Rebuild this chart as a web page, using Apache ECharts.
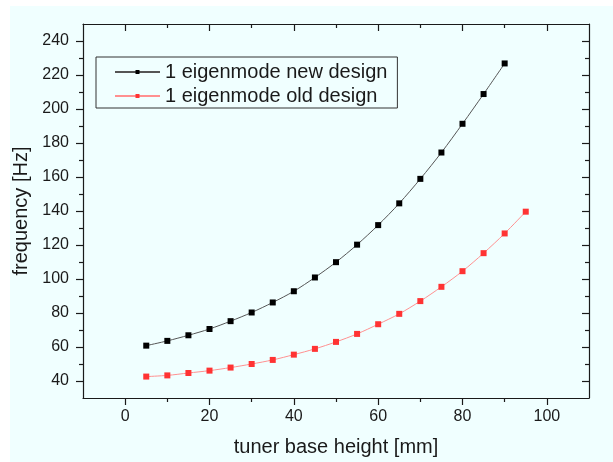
<!DOCTYPE html>
<html>
<head>
<meta charset="utf-8">
<script src="https://cdn.jsdelivr.net/npm/echarts@6/dist/echarts.min.js"></script>
<style>
html,body{margin:0;padding:0;background:#ffffff;}
#bg{position:absolute;left:10px;top:6px;width:603px;height:456px;background:#f0ffff;}
#main{position:absolute;left:0;top:0;width:613px;height:462px;}
</style>
</head>
<body>
<div id="bg"></div>
<div id="main"></div>
<script>
// Data
const heightsNew = [5,10,15,20,25,30,35,40,45,50,55,60,65,70,75,80,85,90];
const freqNew = [60.8,63.6,66.9,70.6,75.2,80.3,86.2,92.8,100.9,109.9,120.2,131.7,144.5,158.9,174.4,191.3,208.8,226.8];
const heightsOld = [5,10,15,20,25,30,35,40,45,50,55,60,65,70,75,80,85,90,95];
const freqOld = [42.6,43.3,44.7,46.1,47.9,50.0,52.4,55.5,58.9,63.0,67.7,73.4,79.5,87.0,95.4,104.6,115.2,126.8,139.6];
const seriesNames = ['1 eigenmode new design', '1 eigenmode old design'];
const xMajorTicks = [0,20,40,60,80,100];
const xMinorTicks = [10,30,50,70,90];
const yMajorTicks = [40,60,80,100,120,140,160,180,200,220,240];
const yMinorTicks = [50,70,90,110,130,150,170,190,210,230];
const xTitle = 'tuner base height [mm]';
const yTitle = 'frequency [Hz]';

const FONT = '"Liberation Sans", Arial, sans-serif';
const AX = '#1a1a1a';

function xAxisDef(pos, ticks, len, inside, showLabel, showLine, withName) {
  const a = {
    type: 'value', position: pos, min: -10, max: 110,
    axisLine: {show: showLine, onZero: false, lineStyle: {color: AX, width: 1.2}},
    axisTick: {show: true, inside: inside, length: len, customValues: ticks, lineStyle: {color: AX, width: 1.2}},
    axisLabel: {show: showLabel, customValues: ticks, margin: 11, color: '#1a1a1a', fontSize: 16, fontFamily: FONT},
    splitLine: {show: false}
  };
  if (withName) {
    a.name = xTitle; a.nameLocation = 'middle'; a.nameGap = 39;
    a.nameTextStyle = {fontSize: 20, color: '#1a1a1a', fontFamily: FONT};
  }
  return a;
}
function yAxisDef(pos, ticks, len, inside, showLabel, showLine, withName) {
  const a = {
    type: 'value', position: pos, min: 30, max: 250,
    axisLine: {show: showLine, onZero: false, lineStyle: {color: AX, width: 1.2}},
    axisTick: {show: true, inside: inside, length: len, customValues: ticks, lineStyle: {color: AX, width: 1.2}},
    axisLabel: {show: showLabel, customValues: ticks, margin: 14, color: '#1a1a1a', fontSize: 16, fontFamily: FONT},
    splitLine: {show: false}
  };
  if (withName) {
    a.name = yTitle; a.nameLocation = 'middle'; a.nameGap = 49;
    a.nameTextStyle = {fontSize: 20, color: '#1a1a1a', fontFamily: FONT};
  }
  return a;
}

const chart = echarts.init(document.getElementById('main'), null, {renderer: 'canvas'});
chart.setOption({
  backgroundColor: 'transparent',
  animation: false,
  grid: {left: 83, right: 24, top: 24, bottom: 64, containLabel: false},
  legend: {
    orient: 'vertical', left: 96, top: 57,
    padding: [5, 10, 2, 18],
    borderColor: '#333', borderWidth: 1,
    itemWidth: 45, itemHeight: 5, itemGap: 4,
    textStyle: {fontSize: 20, color: '#1a1a1a', fontFamily: FONT, lineHeight: 20},
    data: seriesNames
  },
  xAxis: [
    xAxisDef('bottom', xMajorTicks, 7, false, true, true, true),
    xAxisDef('bottom', xMinorTicks, 4, false, false, false, false),
    xAxisDef('top', xMajorTicks, 7, true, false, true, false),
    xAxisDef('top', xMinorTicks, 4, true, false, false, false)
  ],
  yAxis: [
    yAxisDef('left', yMajorTicks, 7, false, true, true, true),
    yAxisDef('left', yMinorTicks, 4, false, false, false, false),
    yAxisDef('right', yMajorTicks, 7, true, false, true, false),
    yAxisDef('right', yMinorTicks, 4, true, false, false, false)
  ],
  series: [
    {
      name: seriesNames[0], type: 'line', xAxisIndex: 0, yAxisIndex: 0,
      data: heightsNew.map((x, i) => [x, freqNew[i]]),
      smooth: 0.3, symbol: 'rect', symbolSize: 6,
      lineStyle: {color: '#555555', width: 1},
      itemStyle: {color: '#000000'}
    },
    {
      name: seriesNames[1], type: 'line', xAxisIndex: 0, yAxisIndex: 0,
      data: heightsOld.map((x, i) => [x, freqOld[i]]),
      smooth: 0.3, symbol: 'rect', symbolSize: 6,
      lineStyle: {color: '#ff9090', width: 1},
      itemStyle: {color: '#ff3333'}
    }
  ]
});
</script>
</body>
</html>
